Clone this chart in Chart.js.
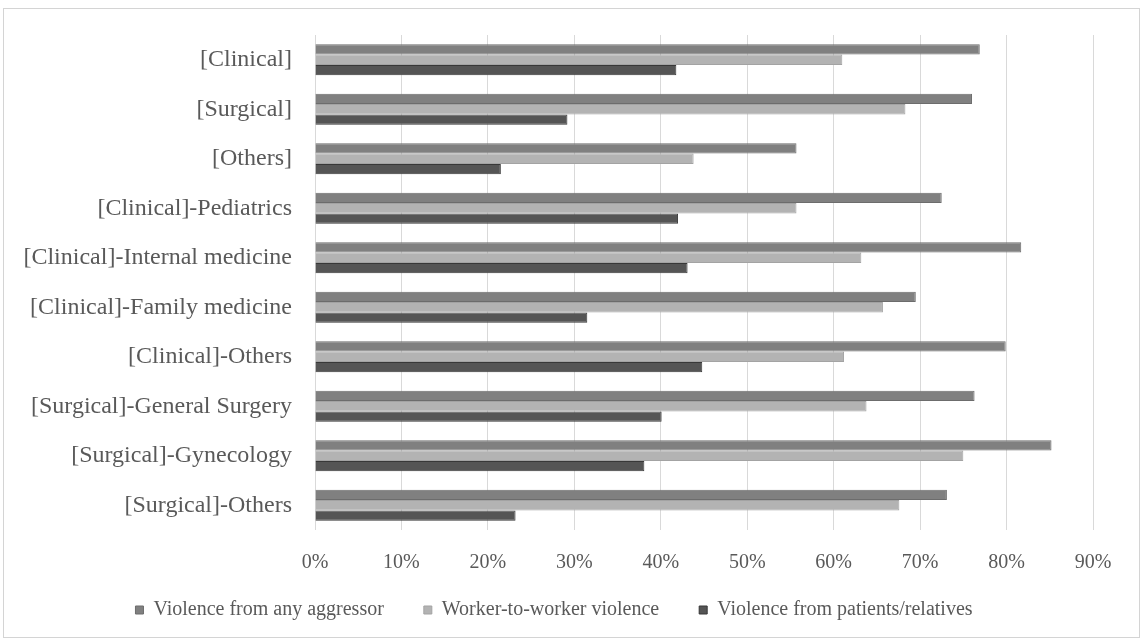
<!DOCTYPE html>
<html>
<head>
<meta charset="utf-8">
<script src="https://cdn.jsdelivr.net/npm/chart.js@4/dist/chart.umd.min.js"></script>
<style>
  html, body { margin: 0; padding: 0; background: #ffffff; }
  #frame { position: absolute; left: 3px; top: 8px; width: 1137px; height: 630px; border: 1px solid #d4d4d4; box-sizing: border-box; }
  #wrap { position: absolute; left: 0; top: 0; width: 1144px; height: 644px; }
</style>
</head>
<body>
<div id="frame"></div>
<div id="wrap"><canvas id="c" width="1144" height="644"></canvas></div>
<script>
// Departments / specialties
const categories = [
  "[Clinical]",
  "[Surgical]",
  "[Others]",
  "[Clinical]-Pediatrics",
  "[Clinical]-Internal medicine",
  "[Clinical]-Family medicine",
  "[Clinical]-Others",
  "[Surgical]-General Surgery",
  "[Surgical]-Gynecology",
  "[Surgical]-Others"
];

// Prevalence (%) by type of violence
const anyAggressor    = [76.9, 76.0, 55.7, 72.5, 81.7, 69.5, 79.9, 76.3, 85.2, 73.1];
const workerToWorker  = [61.0, 68.3, 43.8, 55.7, 63.2, 65.7, 61.2, 63.8, 75.0, 67.6];
const patientsRelatives = [41.8, 29.2, 21.5, 42.0, 43.1, 31.5, 44.8, 40.1, 38.1, 23.2];

const seriesNames = [
  "Violence from any aggressor",
  "Worker-to-worker violence",
  "Violence from patients/relatives"
];

// X-axis ticks: 0% .. 90%
const xTicks = [0, 10, 20, 30, 40, 50, 60, 70, 80, 90];

const FONT = "'Liberation Serif', 'Times New Roman', serif";
const TEXT = "#595959";

new Chart(document.getElementById("c"), {
  type: "bar",
  data: {
    labels: categories,
    datasets: [
      { label: seriesNames[0], data: anyAggressor, backgroundColor: "#808080", borderColor: "#6c6c6c", borderWidth: 1 },
      { label: seriesNames[1], data: workerToWorker, backgroundColor: "#b3b3b3", borderColor: "#a3a3a3", borderWidth: 1 },
      { label: seriesNames[2], data: patientsRelatives, backgroundColor: "#555555", borderColor: "#383838", borderWidth: 1 }
    ]
  },
  options: {
    indexAxis: "y",
    responsive: false,
    animation: false,
    layout: { padding: { left: 15, right: 51, top: 35, bottom: 14 } },
    datasets: { bar: { categoryPercentage: 0.63, barPercentage: 1.0 } },
    plugins: {
      tooltip: { enabled: false },
      legend: {
        position: "bottom",
        // empty title with a negative offset: keeps wide gaps between items
        // while pulling the row closer to the axis labels
        title: { display: true, text: "", font: { size: 1, lineHeight: 1 }, padding: { top: -37, bottom: 0 } },
        labels: {
          font: { family: FONT, size: 20 },
          color: TEXT,
          boxWidth: 8,
          boxHeight: 8,
          padding: 40
        }
      }
    },
    scales: {
      x: {
        min: 0,
        max: 90,
        afterBuildTicks: (s) => { s.ticks = xTicks.map(v => ({ value: v })); },
        grid: { color: "#d9d9d9", lineWidth: 1, drawTicks: false },
        border: { display: false },
        ticks: {
          font: { family: FONT, size: 20 },
          color: TEXT,
          padding: 21,
          callback: (v) => v + "%"
        }
      },
      y: {
        afterFit: (s) => { s.width = 300; },
        grid: { display: false },
        border: { display: false },
        ticks: {
          font: { family: FONT, size: 24 },
          color: TEXT,
          padding: 15
        }
      }
    }
  }
});
</script>
</body>
</html>
